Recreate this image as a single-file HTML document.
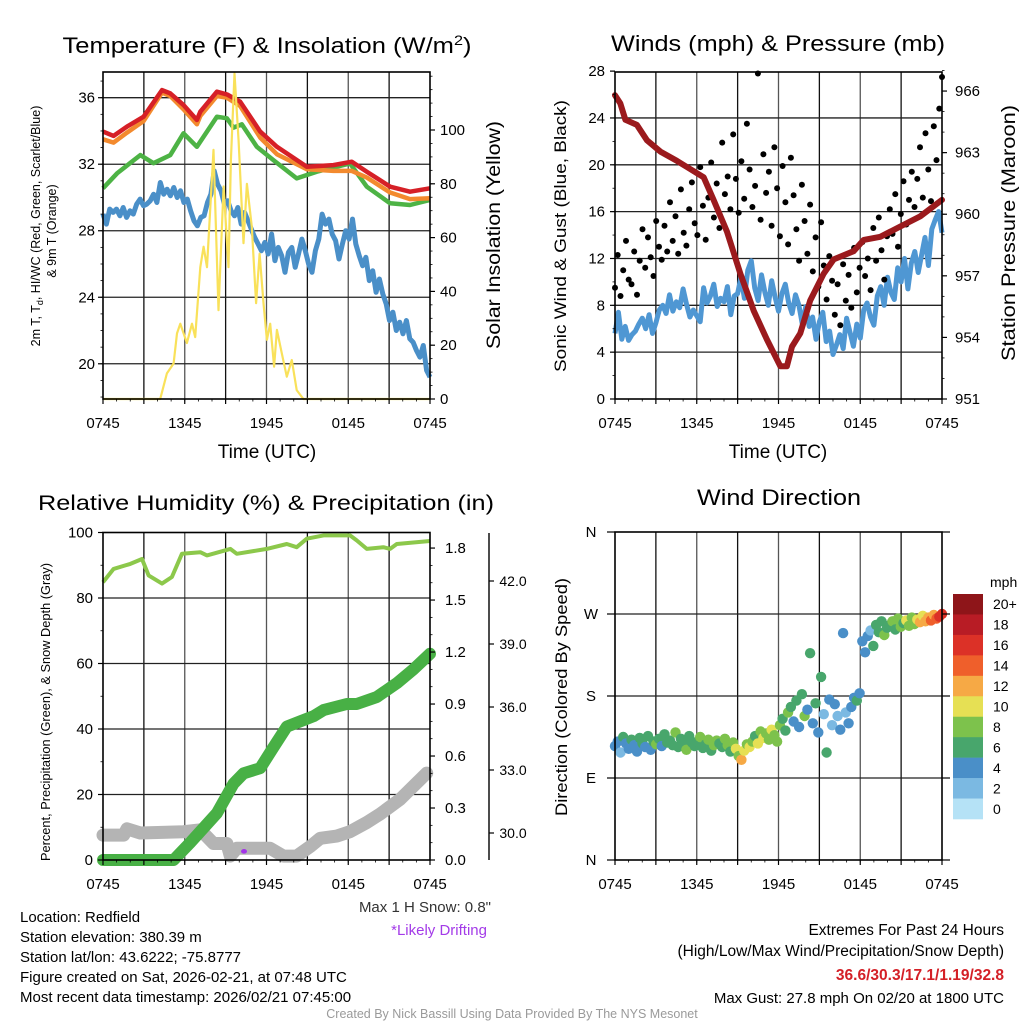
<!DOCTYPE html>
<html><head><meta charset="utf-8"><title>Mesonet Station Summary</title>
<style>
html,body{margin:0;padding:0;background:#fff;}
svg{display:block;font-family:"Liberation Sans",Arial,sans-serif;}
</style></head>
<body>
<svg id="fig" width="1024" height="1024" viewBox="0 0 1024 1024" xmlns="http://www.w3.org/2000/svg">
<rect x="0" y="0" width="1024" height="1024" fill="#fff"/>
<g id="layer"></g>
</svg>
<script>
// ===== Panel 1: temperature & insolation =====
const tempTimes = [0,0.78,1.76,2.98,4.33,4.94,5.91,6.89,7.14,8.36,9.09,10.07,11.54,12.76,14.96,16.91,18.26,19.36,21.07,22.53,24];
const tempRed = [33.96,33.7,34.26,34.86,36.46,36.26,35.56,34.66,35.16,36.36,36.2,35.76,33.96,33.05,31.85,31.95,32.15,31.55,30.65,30.35,30.55];
const tempOrange = [33.5,33.3,33.9,34.6,36.3,36.1,35.3,34.4,34.9,36.1,36.0,35.5,33.6,32.6,31.7,31.6,31.6,31.2,30.3,29.9,29.95];
const chillTimes = [0,1.03,2.74,3.71,4.94,5.91,6.89,8.36,9.09,9.58,10.19,11.29,12.51,14.22,15.69,18.13,19.36,21.07,22.53,24];
const chillGreen = [30.55,31.45,32.55,32.06,32.55,33.86,33.05,34.86,34.76,34.2,34.4,33.05,32.25,31.15,31.55,32.05,30.65,29.65,29.55,29.85];
const dewBlue = [29.0,28.4,29.3,29.1,29.3,
 28.9,29.4,28.8,29.2,29.0,29.6,29.9,29.5,
 29.6,29.8,30.2,29.7,30.9,30.2,30.5,30.1,
 30.6,30.0,30.4,29.7,29.9,29.2,28.6,28.3,
 28.8,28.9,29.7,30.2,31.6,30.8,30.4,29.6,
 29.8,29.2,28.9,29.4,28.4,29.1,28.6,28.1,
 27.6,27.2,26.8,27.3,26.6,27.8,26.2,27.0,
 26.5,25.5,26.7,27.0,25.8,26.6,27.5,26.8,
 26.0,25.5,26.8,27.5,29.0,28.4,28.7,27.8,
 27.4,26.3,27.2,28.0,27.5,28.7,27.2,26.5,
 25.9,26.4,25.0,25.6,24.3,25.1,24.2,23.6,
 22.6,23.1,22.0,22.5,21.8,22.6,21.5,21.3,
 20.8,20.4,21.1,19.6,19.2];
const solarTimes = [0,3.96,4.20,4.69,5.18,5.43,5.67,6.16,6.53,6.77,7.14,7.38,7.63,8.11,8.48,8.85,9.21,9.39,9.65,9.95,10.31,10.56,10.92,11.24,11.49,11.78,12.03,12.27,12.56,12.76,13.12,13.49,13.86,14.22,14.71,24];
const solarVals = [0,0,0,9.5,13.2,24.4,28,20.8,28,23,49,56.6,49,92.6,33,79,49,88.8,121,96,57.9,80,64,35.6,54,35.6,22,28,12,25.7,17,8.3,14.5,3.3,0,0];
const tempTicks = [20,24,28,32,36];
const solarTicks = [0,20,40,60,80,100];
const timeTickLabels = ["0745","1345","1945","0145","0745"];

// ===== Panel 2: winds & pressure =====
const presTimes = [0,0.39,0.76,1.61,2.35,3.33,4.55,5.28,6.51,7.24,8.22,9.20,10.18,11.15,12.13,12.62,12.99,13.60,14.33,15.31,16.05,17.51,18.25,19.47,20.94,22.41,24];
const presVals = [965.8,965.4,964.6,964.35,963.6,963.05,962.6,962.3,961.8,960.7,959.15,957.1,955.3,953.9,952.6,952.6,953.55,954.2,955.8,957.1,957.8,958.2,958.75,958.9,959.4,959.9,960.7];
const windSpeed = [5.6,7.4,5.1,6.2,5.0,5.5,5.8,6.4,
 6.9,6.0,7.2,5.6,6.5,7.6,8.0,7.3,
 8.9,7.5,8.3,7.8,9.4,8.1,7.0,7.6,
 7.1,6.6,9.5,8.2,8.8,9.8,7.9,8.6,
 8.3,9.6,7.2,8.8,9.0,10.4,8.6,11.0,
 11.8,9.5,8.4,10.6,9.1,8.0,10.1,8.7,
 7.5,9.0,9.8,8.2,7.3,8.9,8.0,6.4,
 7.9,6.2,7.0,5.1,6.6,7.4,4.9,5.8,
 3.8,4.6,5.5,4.3,6.9,5.7,4.5,6.4,
 5.2,7.6,8.2,7.0,6.3,8.8,9.6,8.0,
 10.4,9.1,8.5,11.2,10.0,12.0,9.4,11.6,
 12.6,10.8,12.3,13.8,11.4,14.5,15.3,16.0,14.2];
const windGust = [9.5,12.3,8.8,11.0,13.5,10.2,9.8,12.6,8.9,11.8,
 14.5,11.2,13.8,12.1,10.5,15.2,13.0,11.9,14.8,12.6,
 16.8,13.5,15.6,12.4,17.9,14.2,13.1,16.2,18.5,15.0,
 14.0,19.8,16.5,13.6,17.2,20.2,15.5,18.4,14.6,21.9,
 17.5,19.0,16.2,22.6,18.8,15.9,20.3,17.1,23.5,19.6,
 16.4,18.2,27.8,15.3,20.9,17.6,19.4,14.8,21.5,18.0,
 13.9,19.9,16.8,13.2,20.6,17.4,14.5,11.8,18.3,15.2,
 12.4,16.6,10.9,13.8,9.6,15.1,11.4,8.5,12.2,10.1,
 7.2,9.8,6.3,11.5,8.4,10.6,7.8,12.9,9.1,11.2,
 13.4,10.5,12.0,9.3,14.6,11.8,15.5,12.7,10.2,13.9,
 16.2,14.1,17.5,13.0,15.8,18.6,14.9,17.0,19.4,16.4,
 18.8,21.5,17.2,22.7,19.6,16.9,23.3,20.4,24.8,27.5];
const windTicks = [0,4,8,12,16,20,24,28];
const presTicks = [951,954,957,960,963,966];

// ===== Panel 3: RH, precip, snow =====
const rhTimes = [0,0.78,2.0,2.86,3.35,4.33,5.06,5.79,7.14,7.63,9.34,9.82,12.02,13.49,14.22,14.96,16.18,18.13,18.62,19.36,20.58,21.07,21.56,24];
const rhVals = [84.8,88.9,90.4,91.9,86.9,84.4,86.4,93.5,94.0,93.0,95.0,93.5,95,96.5,95.5,98.1,99.1,99.1,97.6,95,95.5,95,96.5,97.4];
const precipTimes = [0,5.18,6.40,8.36,9.58,10.31,11.54,12.51,13.49,14.47,15.45,16.18,17.89,18.62,20.09,21.56,22.78,24];
const precipVals = [0,0,0.1,0.27,0.44,0.5,0.53,0.65,0.77,0.8,0.83,0.865,0.9,0.9,0.94,1.02,1.10,1.19];
const snowTimes = [0,1.52,1.76,2.74,5.91,7.14,8.11,9.09,9.34,9.82,12.27,13.25,14.22,15.20,15.94,17.16,18.13,19.36,20.33,21.80,23.76];
const snowVals = [29.9,29.9,30.2,30.0,30.06,30.15,29.5,29.5,28.9,29.27,29.27,28.9,28.9,29.35,29.75,29.85,30.06,30.5,30.9,31.6,32.85];
const driftTimes = [10.35];
const driftVals = [0.05];
const rhTicks = [0,20,40,60,80,100];
const precipTicks = ["0.0","0.3","0.6","0.9","1.2","1.5","1.8"];
const snowTicks = ["30.0","33.0","36.0","39.0","42.0"];

// ===== Panel 4: wind direction =====
const dirVals = [125,130,118,135,128,122,132,126,119,134,
 128,124,136,121,130,127,133,125,138,129,
 131,126,140,124,133,128,121,136,129,125,
 130,135,123,127,132,120,126,131,128,124,
 133,126,119,129,122,114,110,120,127,124,
 130,136,128,141,134,139,132,143,137,130,
 148,155,142,162,168,152,175,146,182,158,
 165,227,150,172,140,201,160,118,176,148,
 171,158,143,249,162,150,168,178,175,183,
 240,228,246,252,235,258,250,262,247,255,
 258,262,253,265,256,260,263,257,266,259,
 264,261,268,262,266,263,269,265,267,270];
const dirSpeeds = [4.5,5.2,3.8,6.5,5.0,4.2,6.8,5.5,4.0,6.1,
 6.5,5.3,7.2,4.8,6.9,8.2,6.2,5.6,7.5,6.6,
 7.1,6.4,8.5,7.6,6.3,7.8,8.6,6.9,7.4,6.2,
 6.8,8.3,7.5,6.1,8.8,7.2,9.4,8.1,6.6,7.9,
 8.2,9.6,7.3,8.7,10.5,9.1,12.5,10.8,8.5,10.2,
 9.3,7.6,10.4,8.8,11.0,9.6,8.1,10.9,9.2,8.4,
 8.3,7.4,6.8,9.5,6.2,5.4,7.1,4.6,6.9,8.2,
 5.8,6.5,4.4,7.3,5.1,6.6,3.8,6.2,4.9,3.2,
 4.6,2.9,5.2,5.8,3.5,4.4,5.3,4.1,6.8,5.7,
 4.3,5.1,4.8,3.6,6.4,7.1,6.7,7.5,8.3,6.6,
 7.4,8.6,6.9,9.1,8.2,7.7,10.3,8.8,9.5,8.1,
 10.6,12.8,11.4,13.5,12.2,14.6,13.1,15.4,16.6,17.1];
const dirTickLabels = ["N","E","S","W","N"];
const speedBinLabels = ["20+","18","16","14","12","10","8","6","4","2","0"];
const speedBinColors = ["#8e1519","#b81c25","#dc3127","#ef5f2b","#f6a945","#e6e054","#7dc24c","#48a66c","#4a8fc8","#7bb9e2","#b5e2f6"];

// ===== helpers =====
const NS = "http://www.w3.org/2000/svg";
const layer = document.getElementById("layer");
function mk(tag, attrs, parent) {
  const e = document.createElementNS(NS, tag);
  for (const k in attrs) e.setAttribute(k, attrs[k]);
  (parent || layer).appendChild(e);
  return e;
}
function txt(str, x, y, size, opts, parent) {
  opts = opts || {};
  const a = {x: x, y: y, "font-size": size, fill: opts.fill || "#000", "text-anchor": opts.anchor || "start"};
  if (opts.weight) a["font-weight"] = opts.weight;
  if (opts.rot) a.transform = "rotate(-90 " + x + " " + y + ")";
  if (opts.len) { a.textLength = opts.len; a.lengthAdjust = "spacingAndGlyphs"; }
  const e = mk("text", a, parent);
  e.textContent = str;
  return e;
}
function linePath(ts, vs, xf, yf) {
  let d = "";
  for (let i = 0; i < ts.length; i++) d += (i ? "L" : "M") + xf(ts[i]).toFixed(1) + " " + yf(vs[i]).toFixed(1);
  return d;
}
function evenTimes(n) { const a = []; for (let i = 0; i < n; i++) a.push(i * 24 / (n - 1)); return a; }

// Panel geometry
const P1 = {x0: 103, x1: 430, y0: 72, y1: 399};
const P2 = {x0: 615, x1: 942, y0: 72, y1: 399};
const P3 = {x0: 103, x1: 430, y0: 532.5, y1: 860};
const P4 = {x0: 615, x1: 942, y0: 532, y1: 860};
function xScale(P) { return t => P.x0 + t / 24 * (P.x1 - P.x0); }

function timeAxis(P, name) {
  const g = mk("g", {});
  
  
  const xs = xScale(P);
  for (let h = 0; h <= 24; h += 3) {
    const x = xs(h);
    mk("line", {x1: x, y1: P.y1, x2: x, y2: P.y1 + 5, stroke: "#000", "stroke-width": 1.2}, g);
  }
  for (let h = 0; h <= 24; h += 1) {
    const x = xs(h);
    mk("line", {x1: x, y1: P.y1, x2: x, y2: P.y1 + 2.5, stroke: "#000", "stroke-width": 0.8}, g);
  }
  timeTickLabels.forEach((lab, i) => {
    const t = txt(lab, xs(i * 6), P.y1 + 29, 15, {anchor: "middle"}, g);
    
    
  });
}
function grid(P, name, hys) {
  const g = mk("g", {});
  
  
  const xs = xScale(P);
  for (let h = 3; h < 24; h += 3) {
    mk("line", {x1: xs(h), y1: P.y0, x2: xs(h), y2: P.y1, stroke: (h % 6 === 0) ? "#555" : "#111", "stroke-width": 1.3}, g);
  }
  hys.forEach(y => mk("line", {x1: P.x0, y1: y, x2: P.x1, y2: y, stroke: "#222", "stroke-width": 1.3}, g));
}
function frame(P, name) {
  const r = mk("rect", {x: P.x0, y: P.y0, width: P.x1 - P.x0, height: P.y1 - P.y0, fill: "none", stroke: "#000", "stroke-width": 1.6});
  
  
}

// ===== Panel 1 =====
(function () {
  const P = P1, xs = xScale(P);
  const yT = T => 97.7 + (36 - T) * 16.63;
  const yS = v => 399 - v * 2.69;
  grid(P, "temperature-panel", tempTicks.map(yT));
  const g = mk("g", {"clip-path": "none"});
  
  
  let p;
  p = mk("path", {d: linePath(evenTimes(dewBlue.length), dewBlue, xs, yT), fill: "none", stroke: "#4a8fc8", "stroke-width": 5, "stroke-linejoin": "round"}, g);
  
  
  p = mk("path", {d: linePath(chillTimes, chillGreen, xs, yT), fill: "none", stroke: "#4db345", "stroke-width": 4.5, "stroke-linejoin": "round"}, g);
  
  
  p = mk("path", {d: linePath(tempTimes, tempOrange, xs, yT), fill: "none", stroke: "#f38a2e", "stroke-width": 4.5, "stroke-linejoin": "round"}, g);
  
  
  p = mk("path", {d: linePath(tempTimes, tempRed, xs, yT), fill: "none", stroke: "#d62027", "stroke-width": 4.5, "stroke-linejoin": "round"}, g);
  
  
  p = mk("path", {d: linePath(solarTimes, solarVals, xs, yS), fill: "none", stroke: "#f9e15a", "stroke-width": 2.2, "stroke-linejoin": "round"}, g);
  
  
  frame(P, "temperature-panel");
  timeAxis(P, "temperature-panel");
  tempTicks.forEach(v => {
    mk("line", {x1: P.x0 - 5, y1: yT(v), x2: P.x0, y2: yT(v), stroke: "#000", "stroke-width": 1.2});
    const t = txt(String(v), P.x0 - 8, yT(v) + 5, 15, {anchor: "end"});
    
    
  });
  for (let v = 18; v <= 37; v++) mk("line", {x1: P.x0 - 2.5, y1: yT(v), x2: P.x0, y2: yT(v), stroke: "#000", "stroke-width": 0.8});
  solarTicks.forEach(v => {
    mk("line", {x1: P.x1, y1: yS(v), x2: P.x1 + 5, y2: yS(v), stroke: "#000", "stroke-width": 1.2});
    const t = txt(String(v), P.x1 + 10, yS(v) + 5, 15, {anchor: "start"});
    
    
  });
  for (let v = 0; v <= 120; v += 5) mk("line", {x1: P.x1, y1: yS(v), x2: P.x1 + 2.5, y2: yS(v), stroke: "#000", "stroke-width": 0.8});
  let t;
  t = mk("text", {x: 267, y: 53, "font-size": 22, "text-anchor": "middle", textLength: 409, lengthAdjust: "spacingAndGlyphs"});
  t.innerHTML = 'Temperature (F) &amp; Insolation (W/m<tspan dy="-8" font-size="14">2</tspan><tspan dy="8">)</tspan>';
  
  
  t = txt("Time (UTC)", 267, 458, 19, {anchor: "middle"});
  
  
  t = mk("text", {x: 40, y: 226, "font-size": 12.5, "text-anchor": "middle", transform: "rotate(-90 40 226)"});
  t.innerHTML = '2m T, T<tspan dy="3" font-size="9">d</tspan><tspan dy="-3">, HI/WC (Red, Green, Scarlet/Blue)</tspan>';
  
  
  t = txt("& 9m T (Orange)", 56, 231, 12.5, {anchor: "middle", rot: true});
  
  
  t = txt("Solar Insolation (Yellow)", 500, 235, 19.5, {anchor: "middle", rot: true, len: 228});
  
  
})();

// ===== Panel 2 =====
(function () {
  const P = P2, xs = xScale(P);
  const yW = w => 399 - w * 11.71;
  const yP = p => 399 - (p - 951) * 20.53;
  grid(P, "wind-panel", windTicks.filter(v => v > 0 && v < 28).map(yW));
  let p = mk("path", {d: linePath(evenTimes(windSpeed.length), windSpeed, xs, yW), fill: "none", stroke: "#4f97d3", "stroke-width": 5, "stroke-linejoin": "round"});
  
  
  const gg = mk("g", {});
  
  
  const gt = evenTimes(windGust.length);
  windGust.forEach((v, i) => {
    const c = mk("circle", {cx: xs(gt[i]).toFixed(1), cy: yW(v).toFixed(1), r: 3, fill: "#000"}, gg);
    
    
  });
  p = mk("path", {d: linePath(presTimes, presVals, xs, yP), fill: "none", stroke: "#9b1a1d", "stroke-width": 6, "stroke-linejoin": "round", "stroke-linecap": "round"});
  
  
  frame(P, "wind-panel");
  timeAxis(P, "wind-panel");
  windTicks.forEach(v => {
    mk("line", {x1: P.x0 - 5, y1: yW(v), x2: P.x0, y2: yW(v), stroke: "#000", "stroke-width": 1.2});
    const t = txt(String(v), P.x0 - 10, yW(v) + 5, 15, {anchor: "end"});
    
    
  });
  for (let v = 0; v <= 28; v += 2) mk("line", {x1: P.x0 - 2.5, y1: yW(v), x2: P.x0, y2: yW(v), stroke: "#000", "stroke-width": 0.8});
  presTicks.forEach(v => {
    mk("line", {x1: P.x1, y1: yP(v), x2: P.x1 + 5, y2: yP(v), stroke: "#000", "stroke-width": 1.2});
    const t = txt(String(v), P.x1 + 13, yP(v) + 5, 15, {anchor: "start"});
    
    
  });
  for (let v = 951; v <= 967; v += 1) mk("line", {x1: P.x1, y1: yP(v), x2: P.x1 + 2.5, y2: yP(v), stroke: "#000", "stroke-width": 0.8});
  let t;
  t = txt("Winds (mph) & Pressure (mb)", 778, 51, 22, {anchor: "middle", len: 334});
  
  
  t = txt("Time (UTC)", 778, 458, 19, {anchor: "middle"});
  
  
  t = txt("Sonic Wind & Gust (Blue, Black)", 566, 236, 16.5, {anchor: "middle", rot: true, len: 272});
  
  
  t = txt("Station Pressure (Maroon)", 1015, 233, 19.5, {anchor: "middle", rot: true, len: 256});
  
  
})();

// ===== Panel 3 =====
(function () {
  const P = P3, xs = xScale(P);
  const yR = v => 860 - v * 3.275;
  const yPr = v => 860 - v * 173.3;
  const yS = v => 833 - (v - 30) * 21;
  grid(P, "humidity-panel", [20, 40, 60, 80].map(yR));
  let p;
  p = mk("path", {d: linePath(snowTimes, snowVals, xs, yS), fill: "none", stroke: "#b4b4b4", "stroke-width": 13, "stroke-linejoin": "round", "stroke-linecap": "round"});
  
  
  p = mk("path", {d: linePath(precipTimes, precipVals, xs, yPr), fill: "none", stroke: "#48b045", "stroke-width": 12, "stroke-linejoin": "round", "stroke-linecap": "round"});
  
  
  p = mk("path", {d: linePath(rhTimes, rhVals, xs, yR), fill: "none", stroke: "#8cc84b", "stroke-width": 4, "stroke-linejoin": "round"});
  
  
  driftTimes.forEach((t0, i) => {
    const e = mk("ellipse", {cx: xs(t0), cy: yPr(driftVals[i]), rx: 3, ry: 2.3, fill: "#a234e8"});
    
    
  });
  frame(P, "humidity-panel");
  timeAxis(P, "humidity-panel");
  rhTicks.forEach(v => {
    mk("line", {x1: P.x0 - 5, y1: yR(v), x2: P.x0, y2: yR(v), stroke: "#000", "stroke-width": 1.2});
    const t = txt(String(v), P.x0 - 10, yR(v) + 5, 15, {anchor: "end"});
    
    
  });
  for (let v = 0; v <= 100; v += 10) mk("line", {x1: P.x0 - 2.5, y1: yR(v), x2: P.x0, y2: yR(v), stroke: "#000", "stroke-width": 0.8});
  precipTicks.forEach(s => {
    const v = parseFloat(s);
    mk("line", {x1: P.x1, y1: yPr(v), x2: P.x1 + 5, y2: yPr(v), stroke: "#000", "stroke-width": 1.2});
    const t = txt(s, P.x1 + 15, yPr(v) + 5, 15, {anchor: "start"});
    
    
  });
  for (let v = 0; v <= 1.85; v += 0.1) mk("line", {x1: P.x1, y1: yPr(v), x2: P.x1 + 2.5, y2: yPr(v), stroke: "#000", "stroke-width": 0.8});
  const sa = mk("line", {x1: 489, y1: 533, x2: 489, y2: 860, stroke: "#000", "stroke-width": 1.4});
  
  
  snowTicks.forEach(s => {
    const v = parseFloat(s);
    mk("line", {x1: 489, y1: yS(v), x2: 494, y2: yS(v), stroke: "#000", "stroke-width": 1.2});
    const t = txt(s, 513, yS(v) + 5, 14, {anchor: "middle"});
    
    
  });
  let t;
  t = txt("Relative Humidity (%) & Precipitation (in)", 266, 510, 21, {anchor: "middle", len: 456});
  
  
  t = txt("Percent, Precipitation (Green), & Snow Depth (Gray)", 50, 712, 12.8, {anchor: "middle", rot: true, len: 298});
  
  
})();

// ===== Panel 4 =====
(function () {
  const P = P4, xs = xScale(P);
  const yD = d => 860 - d * (328 / 360);
  grid(P, "direction-panel", [90, 180, 270].map(yD));
  const g = mk("g", {});
  
  
  const dt = evenTimes(dirVals.length);
  dirVals.forEach((d, i) => {
    const bin = Math.min(10, Math.floor(dirSpeeds[i] / 2));
    const c = mk("circle", {cx: xs(dt[i]).toFixed(1), cy: yD(d).toFixed(1), r: 5.2, fill: speedBinColors[10 - bin]}, g);
    
    
  });
  frame(P, "direction-panel");
  timeAxis(P, "direction-panel");
  dirTickLabels.forEach((lab, i) => {
    const y = yD(i * 90);
    mk("line", {x1: P.x0 - 8, y1: y, x2: P.x0, y2: y, stroke: "#000", "stroke-width": 1.2});
    mk("line", {x1: P.x1, y1: y, x2: P.x1 + 8, y2: y, stroke: "#000", "stroke-width": 1.2});
    const t = txt(lab, 591, y + 5, 15, {anchor: "middle"});
    
    
  });
  const cb = mk("g", {});
  
  
  const bh = 225 / speedBinLabels.length;
  speedBinLabels.forEach((lab, i) => {
    const r = mk("rect", {x: 953, y: (594 + i * bh).toFixed(2), width: 30, height: (bh + 0.3).toFixed(2), fill: speedBinColors[i]}, cb);
    
    
    const t = txt(lab, 993, 594 + i * bh + bh / 2 + 5, 14, {anchor: "start"}, cb);
    
    
  });
  let t = txt("mph", 990, 587, 14, {anchor: "start"}, cb);
  
  
  t = txt("Wind Direction", 779, 505, 22, {anchor: "middle", len: 164});
  
  
  t = txt("Direction (Colored By Speed)", 567, 697, 16.5, {anchor: "middle", rot: true, len: 238});
  
  
})();

// ===== footer text =====
(function () {
  const info = ["Location: Redfield", "Station elevation: 380.39 m", "Station lat/lon: 43.6222; -75.8777",
    "Figure created on Sat, 2026-02-21, at 07:48 UTC", "Most recent data timestamp: 2026/02/21 07:45:00"];
  const base = [922, 942, 962, 982, 1002];
  info.forEach((s, i) => {
    const t = txt(s, 20, base[i], 15);
    
    
  });
  let t;
  t = txt('Max 1 H Snow: 0.8"', 491, 912, 15, {anchor: "end", fill: "#333"});
  
  
  t = txt("*Likely Drifting", 487, 935, 15, {anchor: "end", fill: "#a33be8"});
  
  
  t = txt("Extremes For Past 24 Hours", 1004, 935, 15.5, {anchor: "end"});
  
  
  t = txt("(High/Low/Max Wind/Precipitation/Snow Depth)", 1004, 956, 15.5, {anchor: "end"});
  
  
  t = txt("36.6/30.3/17.1/1.19/32.8", 1004, 980, 15.5, {anchor: "end", fill: "#d42027", weight: "bold"});
  
  
  t = txt("Max Gust: 27.8 mph On 02/20 at 1800 UTC", 1004, 1003, 15, {anchor: "end"});
  
  
  t = txt("Created By Nick Bassill Using Data Provided By The NYS Mesonet", 512, 1018, 12.5, {anchor: "middle", fill: "#9a9a9a"});
  
  
})();
</script>
</body></html>
